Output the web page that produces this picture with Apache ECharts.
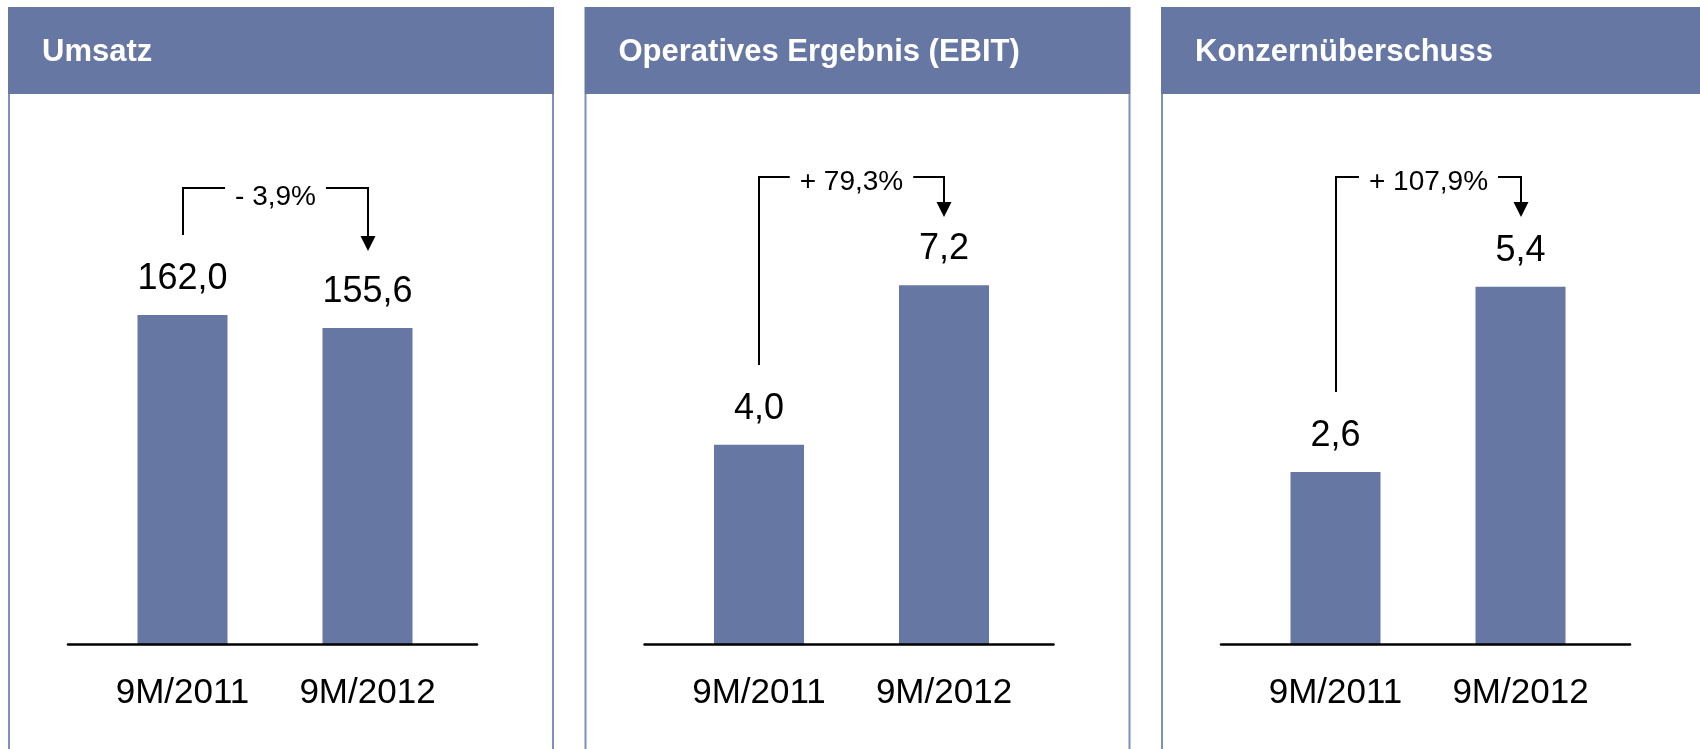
<!DOCTYPE html>
<html>
<head>
<meta charset="utf-8">
<style>html,body{margin:0;padding:0;background:#fff}#main{width:1700px;height:749px}</style>
<script src="https://cdn.jsdelivr.net/npm/echarts@6/dist/echarts.min.js"></script>
</head>
<body>
<div id="main"></div>
<script>
const titles = ['Umsatz', 'Operatives Ergebnis (EBIT)', 'Konzernüberschuss'];
const categories = ['9M/2011', '9M/2012'];
const umsatz = [162.0, 155.6];
const ebit = [4.0, 7.2];
const ueberschuss = [2.6, 5.4];
const changes = ['- 3,9%', '+ 79,3%', '+ 107,9%'];

const panelData = [umsatz, ebit, ueberschuss];
// value axis is hidden; max only sets how tall the bars come out
const axisMax = [267.8, 10.92, 8.22];
const bracketY = [188, 177, 177];
const bracketTextY = [197, 182, 182];

const font = '"Liberation Sans", Arial, sans-serif';
const blue = '#6677a3';
const border = '#7f8fbc';
const panelLeft = [9, 585.5, 1162];
const panelWidth = 544;

const fmt = v => v.toFixed(1).replace('.', ',');

const chart = echarts.init(document.getElementById('main'));
const grid = [], xAxis = [], yAxis = [], series = [];

panelLeft.forEach((p, i) => {
    // bars
    grid.push({ left: p + 81, width: 370, top: 100, bottom: 105 });
    // baseline (longer than the category band)
    grid.push({ left: p + 59, width: 409, top: 100, bottom: 105 });
    xAxis.push({
        type: 'category', gridIndex: 2 * i, data: categories,
        axisLine: { show: false }, axisTick: { show: false },
        axisLabel: { margin: 32, color: '#000', fontSize: 35, fontFamily: font }
    });
    xAxis.push({
        type: 'category', gridIndex: 2 * i + 1, data: [''],
        axisLine: { lineStyle: { color: '#000', width: 2.5 } },
        axisTick: { show: false }, axisLabel: { show: false }, z: 5
    });
    yAxis.push({ type: 'value', gridIndex: 2 * i, min: 0, max: axisMax[i], show: false });
    yAxis.push({ type: 'value', gridIndex: 2 * i + 1, min: 0, max: 1, show: false });
    series.push({
        type: 'bar', xAxisIndex: 2 * i, yAxisIndex: 2 * i,
        data: panelData[i], barWidth: 90, silent: true,
        itemStyle: { color: blue },
        label: {
            show: true, position: 'top', distance: 18,
            formatter: d => fmt(d.value),
            color: '#000', fontSize: 36, fontFamily: font
        }
    });
});

chart.setOption({ animation: false, grid, xAxis, yAxis, series });

// headers, frames and change brackets
const ctx = document.createElement('canvas').getContext('2d');
ctx.font = '28px "Liberation Sans"';
const graphic = [];
panelLeft.forEach((p, i) => {
    graphic.push({ type: 'rect', shape: { x: p - 1, y: 7, width: panelWidth + 2, height: 87 }, style: { fill: blue } });
    graphic.push({ type: 'polyline', shape: { points: [[p, 94], [p, 749]] }, style: { stroke: border, lineWidth: 2 } });
    graphic.push({ type: 'polyline', shape: { points: [[p + panelWidth, 94], [p + panelWidth, 749]] }, style: { stroke: border, lineWidth: 2 } });
    graphic.push({
        type: 'text', x: p + 33, y: 52,
        style: { text: titles[i], fill: '#fff', fontSize: 31, fontWeight: 'bold', fontFamily: font, verticalAlign: 'middle' }
    });

    const d = panelData[i];
    const a = chart.convertToPixel({ xAxisIndex: 2 * i, yAxisIndex: 2 * i }, [categories[0], d[0]]);
    const b = chart.convertToPixel({ xAxisIndex: 2 * i, yAxisIndex: 2 * i }, [categories[1], d[1]]);
    const ax = Math.round(a[0]), bx = Math.round(b[0]);
    const y = bracketY[i];
    const mid = (ax + bx) / 2;
    const w = ctx.measureText(changes[i]).width;
    const tip = Math.max(Math.round(b[1]) - 77, y + 40);
    const leftEnd = Math.round(a[1]) - 80;

    graphic.push({
        type: 'polyline', shape: { points: [[ax, leftEnd], [ax, y], [mid - w / 2 - 10, y]] },
        style: { stroke: '#000', lineWidth: 2, fill: null }
    });
    graphic.push({
        type: 'polyline', shape: { points: [[mid + w / 2 + 10, y], [bx, y], [bx, tip - 14]] },
        style: { stroke: '#000', lineWidth: 2, fill: null }
    });
    graphic.push({
        type: 'polygon', shape: { points: [[bx - 7.5, tip - 15], [bx + 7.5, tip - 15], [bx, tip]] },
        style: { fill: '#000' }
    });
    graphic.push({
        type: 'text', x: mid, y: bracketTextY[i],
        style: { text: changes[i], fill: '#000', fontSize: 28, fontFamily: font, align: 'center', verticalAlign: 'middle' }
    });
});
chart.setOption({ graphic });
</script>
</body>
</html>
